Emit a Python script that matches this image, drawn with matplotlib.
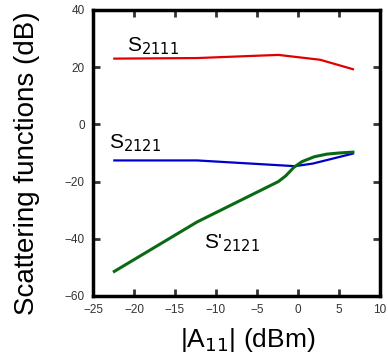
import numpy as np
import matplotlib.pyplot as plt

plt.rcParams['font.family'] = ['Liberation Sans', 'DejaVu Sans']

# data
x_s2111 = [-22.4, -12.3, -2.4, 0.0, 2.7, 6.7]
y_s2111 = [23.0, 23.2, 24.3, 23.5, 22.6, 19.3]

x_s2121 = [-22.4, -12.3, -0.4, 1.8, 6.7]
y_s2121 = [-12.6, -12.6, -14.6, -13.7, -10.2]

x_s2121p = [-22.4, -12.3, -2.4, -1.5, -0.5, 0.5, 2.0, 3.5, 5.0, 6.7]
y_s2121p = [-51.4, -34.1, -20.0, -18.0, -15.0, -13.0, -11.3, -10.4, -10.0, -9.7]

xticks = [-25, -20, -15, -10, -5, 0, 5, 10]
yticks = [-60, -40, -20, 0, 20, 40]

fig = plt.figure(figsize=(3.88, 3.6), dpi=100)
ax = fig.add_axes([93 / 388, 1 - 296 / 360, 287 / 388, 286 / 360])

ax.plot(x_s2111, y_s2111, color='#e00000', lw=1.6)
ax.plot(x_s2121, y_s2121, color='#0000cc', lw=1.6)
ax.plot(x_s2121p, y_s2121p, color='#0a6a14', lw=2.2)

ax.text(-20.8, 27.5, r'S$_{2111}$', fontsize=15, va='center')
ax.text(-23.0, -6.5, r'S$_{2121}$', fontsize=15, va='center')
ax.text(-11.5, -41.5, r"S'$_{2121}$", fontsize=15, va='center')

ax.set_xlim(-25, 10)
ax.set_ylim(-60, 40)
ax.set_xticks(xticks)
ax.set_yticks(yticks)
ax.tick_params(direction='in', length=5, width=2, top=True, right=True,
               labelsize=8.5, pad=6, colors='#333333')
for sp in ax.spines.values():
    sp.set_linewidth(2.5)

ax.set_xlabel(r'|A$_{11}$| (dBm)', fontsize=19)
ax.set_ylabel('Scattering functions (dB)', fontsize=20)
ax.xaxis.set_label_coords(0.54, -0.105)
ax.yaxis.set_label_coords(-0.185, 0.465)

fig.savefig('out.png', dpi=100)
